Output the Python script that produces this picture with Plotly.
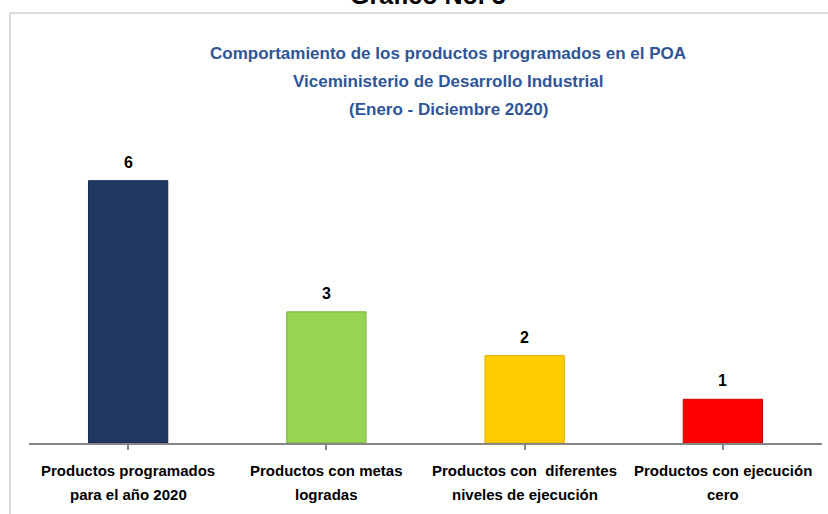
import plotly.graph_objects as go

categories = ["Productos programados para el año 2020", "Productos con metas logradas",
              "Productos con  diferentes niveles de ejecución", "Productos con ejecución cero"]
label_line1 = ["Productos programados", "Productos con metas", "Productos con  diferentes", "Productos con ejecución"]
label_line2 = ["para el año 2020", "logradas", "niveles de ejecución", "cero"]
values = [6, 3, 2, 1]
colors = ["#1F3864", "#96D454", "#FFCC00", "#FF0000"]
edge_colors = ["#16294a", "#7cb33f", "#e0b000", "#d00000"]

title_lines = ["Comportamiento de los productos programados en el POA",
               "Viceministerio de Desarrollo Industrial",
               "(Enero - Diciembre 2020)"]
top_title = "Gráfico No. 3"

W, H = 828, 514
ml, mr, mt, mb = 29, 6, 137, 71
pw, ph = W - ml - mr, H - mt - mb
ymax = 7.0

def px_x(x):
    return (x - ml) / pw

def px_y(y):
    return (H - mb - y) / ph

FONT = "Liberation Sans, Arial, sans-serif"

fig = go.Figure(go.Bar(
    x=list(range(len(values))), y=values,
    marker=dict(color=colors, line=dict(color=edge_colors, width=1)),
    width=0.4, hoverinfo="skip",
))

annotations = []
for i, v in enumerate(values):
    annotations.append(dict(x=i, y=v, xref="x", yref="y", text=f"<b>{v}</b>", showarrow=False,
                            yanchor="bottom", yshift=8, font=dict(size=16, color="#000", family=FONT)))
    annotations.append(dict(x=i, y=px_y(470), xref="x", yref="paper", text=f"<b>{label_line1[i]}</b>",
                            showarrow=False, yanchor="middle", font=dict(size=15, color="#000", family=FONT)))
    annotations.append(dict(x=i, y=px_y(494), xref="x", yref="paper", text=f"<b>{label_line2[i]}</b>",
                            showarrow=False, yanchor="middle", font=dict(size=15, color="#000", family=FONT)))

for j, (t, yy) in enumerate(zip(title_lines, [53, 81, 109])):
    annotations.append(dict(x=px_x(448), y=px_y(yy), xref="paper", yref="paper", text=f"<b>{t}</b>",
                            showarrow=False, yanchor="middle",
                            font=dict(size=17, color="#2F5597", family=FONT)))

annotations.append(dict(x=px_x(428), y=px_y(10), xref="paper", yref="paper", text=f"<b>{top_title}</b>",
                        showarrow=False, yanchor="bottom", borderpad=0,
                        font=dict(size=25, color="#000", family=FONT)))

shapes = [
    dict(type="line", xref="paper", yref="paper", x0=px_x(10), x1=px_x(830), y0=px_y(13), y1=px_y(13),
         line=dict(color="#D9D9D9", width=2)),
    dict(type="line", xref="paper", yref="paper", x0=px_x(10), x1=px_x(10), y0=px_y(13), y1=px_y(516),
         line=dict(color="#D9D9D9", width=2)),
]

fig.update_layout(
    width=W, height=H, margin=dict(l=ml, r=mr, t=mt, b=mb),
    paper_bgcolor="white", plot_bgcolor="white",
    showlegend=False,
    xaxis=dict(range=[-0.5, 3.5], tickmode="array", tickvals=[0, 1, 2, 3], ticktext=["", "", "", ""],
               showline=True, linecolor="#868686", linewidth=1.5, ticks="outside", tickson="boundaries",
               ticklen=5, tickcolor="#868686", tickwidth=1.5, showgrid=False, zeroline=False, fixedrange=True,
               type="linear"),
    yaxis=dict(range=[0, ymax], visible=False, showgrid=False, zeroline=False, fixedrange=True),
    annotations=annotations, shapes=shapes,
)

fig.write_html("out.html", config={"displayModeBar": False},
               post_script="document.body.style.margin='0';document.body.style.overflow='hidden';")
